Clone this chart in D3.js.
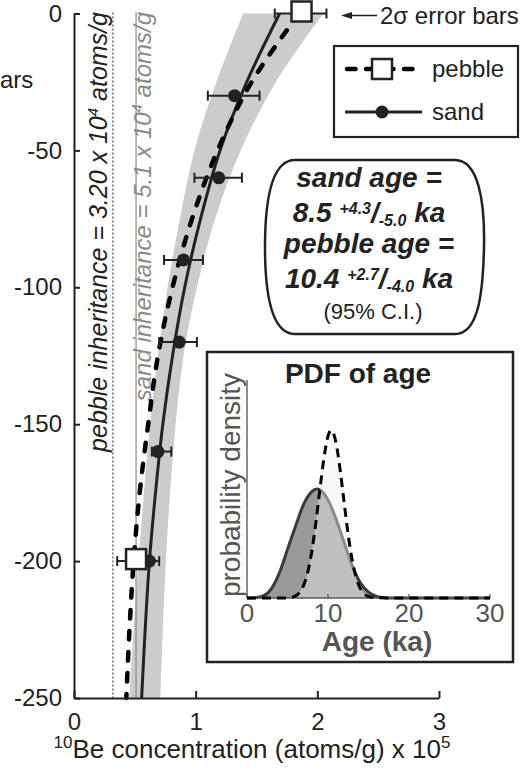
<!DOCTYPE html>
<html>
<head>
<meta charset="utf-8">
<script src="https://cdn.jsdelivr.net/npm/d3@7"></script>
<style>
  html, body { margin: 0; padding: 0; background: #fff; }
  svg { display: block; }
  text { font-family: "Liberation Sans", Arial, Helvetica, sans-serif; }
</style>
</head>
<body>
<svg id="chart" width="522" height="769"></svg>
<script>
// ---- depth profile: 10Be concentration (x 10^5 atoms/g) vs depth (cm) ----
const fitDepth   = [0, -25, -50, -75, -100, -125, -150, -175, -200, -225, -250];
const sandFit    = [1.69, 1.42, 1.20, 1.04, 0.91, 0.81, 0.73, 0.67, 0.62, 0.585, 0.556];
const pebbleFit  = [1.85, 1.46, 1.18, 0.97, 0.81, 0.69, 0.61, 0.54, 0.49, 0.456, 0.43];
const bandLow    = [1.39, 1.17, 0.99, 0.87, 0.77, 0.69, 0.625, 0.575, 0.53, 0.49, 0.455];
const bandHigh   = [2.05, 1.66, 1.37, 1.16, 1.01, 0.90, 0.835, 0.79, 0.755, 0.73, 0.71];

// measured samples with 2-sigma errors
const sandDepth  = [-30, -60, -90, -120, -160, -200];
const sandConc   = [1.32, 1.19, 0.90, 0.865, 0.69, 0.62];
const sandErrLo  = [0.22, 0.20, 0.16, 0.165, 0.05, 0.07];
const sandErrHi  = [0.205, 0.19, 0.16, 0.145, 0.11, 0.08];
const pebbleDepth = [0, -200];
const pebbleConc  = [1.87, 0.51];
const pebbleErrLo = [0.22, 0.155];
const pebbleErrHi = [0.205, 0.12];

// inherited concentrations (x 10^5 atoms/g)
const pebbleInheritance = 0.32;
const sandInheritance = 0.51;

const depthTicks = [0, -50, -100, -150, -200, -250];
const concTicks = [0, 1, 2, 3];

// ---- inset: probability density of age ----
const sandAge = [0, 1, 2, 3, 4, 5, 6, 7, 8, 8.6, 9, 10, 11, 12, 13, 14, 15, 16, 17, 18, 30];
const sandPdf = [0, 0.002, 0.012, 0.055, 0.15, 0.29, 0.43, 0.56, 0.635, 0.65, 0.645, 0.585, 0.47, 0.33, 0.19, 0.09, 0.035, 0.01, 0.002, 0, 0];
const pebbleAge = [0, 4, 5, 6, 6.5, 7, 7.5, 8, 8.5, 9, 9.5, 10, 10.4, 11, 11.5, 12, 12.5, 13, 13.5, 14, 15, 16, 20, 30];
const pebblePdf = [0, 0, 0.001, 0.013, 0.034, 0.077, 0.154, 0.278, 0.448, 0.647, 0.835, 0.965, 1.0, 0.923, 0.764, 0.566, 0.375, 0.223, 0.118, 0.056, 0.009, 0.001, 0, 0];
const ageTicks = [0, 10, 20, 30];

const svg = d3.select("#chart");
const INK = "#222";

const x = d3.scaleLinear().domain([0, 3]).range([74, 439]);
const y = d3.scaleLinear().domain([0, -250]).range([13.5, 698]);

// uncertainty envelope of model profiles
const bandRows = fitDepth.map((d, i) => ({ d, lo: bandLow[i], hi: bandHigh[i] }));
svg.append("path")
  .datum(bandRows)
  .attr("fill", "#cccccc")
  .attr("d", d3.area().y(r => y(r.d)).x0(r => x(r.lo)).x1(r => x(r.hi)).curve(d3.curveCatmullRom));

// inheritance reference lines
svg.append("line")
  .attr("x1", x(pebbleInheritance)).attr("x2", x(pebbleInheritance))
  .attr("y1", y(0) - 1).attr("y2", y(-250))
  .attr("stroke", INK).attr("stroke-width", 1).attr("stroke-dasharray", "2,2");
svg.append("line")
  .attr("x1", x(sandInheritance)).attr("x2", x(sandInheritance))
  .attr("y1", y(0) - 1).attr("y2", y(-250))
  .attr("stroke", "#8a8a8a").attr("stroke-width", 1.2);

function inheritanceLabel(xPos, lead, value, color, size) {
  const t = svg.append("text")
    .attr("transform", `translate(${xPos},12) rotate(-90)`)
    .attr("text-anchor", "end")
    .attr("font-size", size).attr("font-style", "italic")
    .attr("fill", color);
  t.append("tspan").text(`${lead} = ${value} x 10`);
  t.append("tspan").attr("dy", -9).attr("font-size", 15).text("4");
  t.append("tspan").attr("dy", 9).text(" atoms/g");
}
inheritanceLabel(x(pebbleInheritance) - 6, "pebble inheritance", "3.20", INK, 25);
inheritanceLabel(x(sandInheritance) + 15, "sand inheritance", "5.1", "#8a8a8a", 24);

// best-fit profiles
const fitLine = vals => d3.line()
  .x((d, i) => x(vals[i])).y(d => y(d))
  .curve(d3.curveCatmullRom)(fitDepth);
svg.append("path").attr("d", fitLine(sandFit))
  .attr("fill", "none").attr("stroke", INK).attr("stroke-width", 3);
svg.append("path").attr("d", fitLine(pebbleFit))
  .attr("fill", "none").attr("stroke", "#000").attr("stroke-width", 4.5)
  .attr("stroke-dasharray", "8.5,12.5").attr("stroke-linecap", "round");

// axes
const yAxis = svg.append("g").attr("transform", `translate(${x(0)},0)`)
  .call(d3.axisLeft(y).tickValues(depthTicks).tickSize(-6).tickSizeOuter(0).tickPadding(12)
    .tickFormat(d => d === 0 ? "0" : "-" + Math.abs(d)));
const xAxis = svg.append("g").attr("transform", `translate(0,${y(-250)})`)
  .call(d3.axisBottom(x).tickValues(concTicks).tickSize(-7).tickSizeOuter(0).tickPadding(15)
    .tickFormat(d3.format("d")));
[yAxis, xAxis].forEach(g => {
  g.select(".domain").attr("stroke", INK).attr("stroke-width", 2);
  g.selectAll(".tick line").attr("stroke", INK).attr("stroke-width", 2);
  g.selectAll(".tick text").attr("fill", INK).attr("font-size", 24)
    .attr("font-family", "Liberation Sans, Arial, sans-serif");
});

const xl = svg.append("text").attr("x", 252).attr("y", 758).attr("text-anchor", "middle")
  .attr("font-size", 26).attr("fill", INK);
xl.append("tspan").attr("dy", -10).attr("font-size", 17).text("10");
xl.append("tspan").attr("dy", 10).text("Be concentration (atoms/g) x 10");
xl.append("tspan").attr("dy", -10).attr("font-size", 17).text("5");

// error bars and sample markers
function errorBar(d, c, lo, hi) {
  const yy = y(d);
  svg.append("line").attr("x1", x(c - lo)).attr("x2", x(c + hi)).attr("y1", yy).attr("y2", yy)
    .attr("stroke", INK).attr("stroke-width", 2);
  [c - lo, c + hi].forEach(v => svg.append("line")
    .attr("x1", x(v)).attr("x2", x(v)).attr("y1", yy - 5).attr("y2", yy + 5)
    .attr("stroke", INK).attr("stroke-width", 2));
}
pebbleDepth.forEach((d, i) => errorBar(d, pebbleConc[i], pebbleErrLo[i], pebbleErrHi[i]));
sandDepth.forEach((d, i) => errorBar(d, sandConc[i], sandErrLo[i], sandErrHi[i]));
svg.selectAll(".sand-dot").data(sandDepth).enter().append("circle")
  .attr("cx", (d, i) => x(sandConc[i])).attr("cy", d => y(d)).attr("r", 6.5).attr("fill", INK);
svg.selectAll(".pebble-sq").data(pebbleDepth).enter().append("rect")
  .attr("x", (d, i) => x(pebbleConc[i]) - 10).attr("y", d => y(d) - 10 - 2)
  .attr("width", 20).attr("height", 20)
  .attr("fill", "#fff").attr("stroke", INK).attr("stroke-width", 2.5);

// note on error bars
svg.append("line").attr("x1", 377).attr("x2", 348).attr("y1", 15.5).attr("y2", 15.5)
  .attr("stroke", INK).attr("stroke-width", 1.5);
svg.append("path").attr("d", "M341,15.5 L352,12 L352,19 Z").attr("fill", INK);
svg.append("text").attr("x", 380).attr("y", 24).attr("font-size", 24).attr("fill", INK).text("2σ error bars");
svg.append("text").attr("x", 0).attr("y", 88).attr("font-size", 24).attr("fill", INK).text("ars");

// legend
svg.append("rect").attr("x", 334).attr("y", 46).attr("width", 184).attr("height", 91)
  .attr("fill", "#fff").attr("stroke", INK).attr("stroke-width", 2.2);
svg.append("line").attr("x1", 347).attr("x2", 420).attr("y1", 69).attr("y2", 69)
  .attr("stroke", "#000").attr("stroke-width", 4.5).attr("stroke-dasharray", "8.5,10.5").attr("stroke-linecap", "round");
svg.append("rect").attr("x", 372).attr("y", 59).attr("width", 20).attr("height", 20)
  .attr("fill", "#fff").attr("stroke", INK).attr("stroke-width", 2.5);
svg.append("line").attr("x1", 345).attr("x2", 422).attr("y1", 112).attr("y2", 112)
  .attr("stroke", INK).attr("stroke-width", 3);
svg.append("circle").attr("cx", 382).attr("cy", 112).attr("r", 6.5).attr("fill", INK);
svg.append("text").attr("x", 432).attr("y", 77).attr("font-size", 24).attr("fill", INK).text("pebble");
svg.append("text").attr("x", 432).attr("y", 120).attr("font-size", 24).attr("fill", INK).text("sand");

// age summary box
svg.append("path")
  .attr("d", "M295,160 H455 C478,160 485,200 484,247 C483,295 478,334 455,334 H295 C272,334 265,295 265,247 C265,200 272,160 295,160 Z")
  .attr("fill", "#fff").attr("stroke", INK).attr("stroke-width", 2.5);
function ageLine(yPos, parts) {
  const t = svg.append("text").attr("x", 369).attr("y", yPos).attr("text-anchor", "middle")
    .attr("font-size", 28).attr("font-weight", "bold").attr("font-style", "italic").attr("fill", INK);
  parts.forEach(p => {
    const s = t.append("tspan").text(p.t);
    if (p.dy) s.attr("dy", p.dy);
    if (p.fs) s.attr("font-size", p.fs);
  });
}
ageLine(187, [{ t: "sand age =" }]);
ageLine(222, [{ t: "8.5 " }, { t: "+4.3", dy: -8, fs: 16 }, { t: "/", dy: 8 }, { t: "-5.0", dy: 4, fs: 16 }, { t: " ka", dy: -4 }]);
ageLine(253, [{ t: "pebble age =" }]);
ageLine(288, [{ t: "10.4 " }, { t: "+2.7", dy: -8, fs: 16 }, { t: "/", dy: 8 }, { t: "-4.0", dy: 4, fs: 16 }, { t: " ka", dy: -4 }]);
svg.append("text").attr("x", 373).attr("y", 319).attr("text-anchor", "middle")
  .attr("font-size", 22).attr("fill", INK).text("(95% C.I.)");

// ---- inset ----
svg.append("rect").attr("x", 207).attr("y", 352).attr("width", 306).attr("height", 310)
  .attr("fill", "#fff").attr("stroke", INK).attr("stroke-width", 2.5);
const ix = d3.scaleLinear().domain([0, 30]).range([247, 490]);
const iy = d3.scaleLinear().domain([0, 1.3]).range([598, 380]);

const sandRows = sandAge.map((a, i) => ({ a, v: sandPdf[i] }));
const pebbleRows = pebbleAge.map((a, i) => ({ a, v: pebblePdf[i] }));
const pdfArea = d3.area().x(r => ix(r.a)).y0(iy(0)).y1(r => iy(r.v)).curve(d3.curveMonotoneX);
const pdfLine = d3.line().x(r => ix(r.a)).y(r => iy(r.v)).curve(d3.curveMonotoneX);

svg.append("path").datum(sandRows).attr("d", pdfArea).attr("fill", "#9a9a9a");
svg.append("path").datum(sandRows).attr("d", pdfLine).attr("fill", "none")
  .attr("stroke", "#3a3a3a").attr("stroke-width", 3);
svg.append("path").datum(pebbleRows).attr("d", pdfArea).attr("fill", "#eef2f2").attr("fill-opacity", 0.45);

// inset axes
svg.append("line").attr("x1", ix(0)).attr("x2", ix(0)).attr("y1", iy(0)).attr("y2", 380)
  .attr("stroke", "#666").attr("stroke-width", 1.5);
svg.append("line").attr("x1", ix(0)).attr("x2", ix(30)).attr("y1", iy(0)).attr("y2", iy(0))
  .attr("stroke", "#555").attr("stroke-width", 1.5);
svg.selectAll(".age-tick").data(ageTicks).enter().append("line")
  .attr("x1", d => ix(d)).attr("x2", d => ix(d)).attr("y1", iy(0)).attr("y2", iy(0) - 4)
  .attr("stroke", "#555").attr("stroke-width", 1.2);
svg.append("path").datum(pebbleRows).attr("d", pdfLine).attr("fill", "none")
  .attr("stroke", "#000").attr("stroke-width", 3).attr("stroke-dasharray", "9,6");

svg.selectAll(".age-label").data(ageTicks).enter().append("text")
  .attr("x", d => ix(d)).attr("y", 622).attr("text-anchor", "middle")
  .attr("font-size", 26).attr("fill", "#555").text(d => d);
svg.append("text").attr("x", 377).attr("y", 651).attr("text-anchor", "middle")
  .attr("font-size", 28).attr("font-weight", "bold").attr("fill", "#555").text("Age (ka)");
svg.append("text").attr("x", 358).attr("y", 383).attr("text-anchor", "middle")
  .attr("font-size", 28).attr("font-weight", "bold").attr("fill", INK).text("PDF of age");
svg.append("text").attr("transform", "translate(240,485) rotate(-90)").attr("text-anchor", "middle")
  .attr("font-size", 28).attr("fill", "#555").text("probability density");
</script>
</body>
</html>
